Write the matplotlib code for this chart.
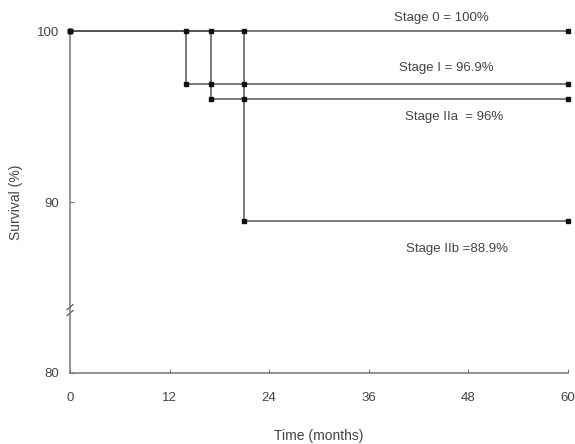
import matplotlib
matplotlib.use("Agg")
import matplotlib.pyplot as plt

plt.rcParams['font.family'] = ['Liberation Sans', 'DejaVu Sans']

# Data
times_0 = [0, 14, 17, 21, 60]
surv_0 = [100, 100, 100, 100, 100]
times_I = [0, 14, 17, 21, 60]
surv_I = [100, 96.9, 96.9, 96.9, 96.9]
times_IIa = [0, 17, 21, 60]
surv_IIa = [100, 96, 96, 96]
times_IIb = [0, 21, 60]
surv_IIb = [100, 88.9, 88.9]
labels = ["Stage 0 = 100%", "Stage I = 96.9%", "Stage IIa  = 96%", "Stage IIb =88.9%"]
x_ticks = [0, 12, 24, 36, 48, 60]
y_ticks = [80, 90, 100]

fig = plt.figure(figsize=(5.75, 4.44), dpi=100)
ax = fig.add_axes([0.1217, 0.16, 0.866, 0.77])

lc = '#555555'
for t, s in [(times_0, surv_0), (times_I, surv_I), (times_IIa, surv_IIa), (times_IIb, surv_IIb)]:
    ax.plot(t, s, drawstyle='steps-post', color=lc, lw=1.1, zorder=2, clip_on=False)
    ax.plot(t, s, linestyle='none', marker='s', ms=3.2, color='#111111', clip_on=False, zorder=3)

ax.set_xlim(0, 60)
ax.set_ylim(80, 100)
ax.set_xticks(x_ticks)
ax.set_yticks(y_ticks)
for sp in ['top', 'right']:
    ax.spines[sp].set_visible(False)
for sp in ['left', 'bottom']:
    ax.spines[sp].set_color('#777777')
    ax.spines[sp].set_linewidth(1.1)
ax.tick_params(axis='both', length=3, color='#777777', labelsize=9.5, labelcolor='#444444')
ax.tick_params(axis='x', direction='in', pad=14)
ax.tick_params(axis='y', direction='in', pad=8)

ax.set_xlabel("Time (months)", fontsize=10, color='#444444', labelpad=18)
ax.set_ylabel("Survival (%)", fontsize=10, color='#444444', labelpad=10)

ann_x = [44.7, 45.4, 46.3, 46.6]
ann_y = [100.76, 97.84, 94.97, 87.25]
for lab, xx, yy in zip(labels, ann_x, ann_y):
    ax.text(xx, yy, lab, ha='center', va='center', fontsize=9.5, color='#444444')

# axis break mark
for dy in (0, 0.35):
    ax.plot([-0.35, 0.35], [83.5 + dy - 0.15, 83.5 + dy + 0.15], color='#555555', lw=0.9, clip_on=False)

fig.savefig("out.png", dpi=100)
